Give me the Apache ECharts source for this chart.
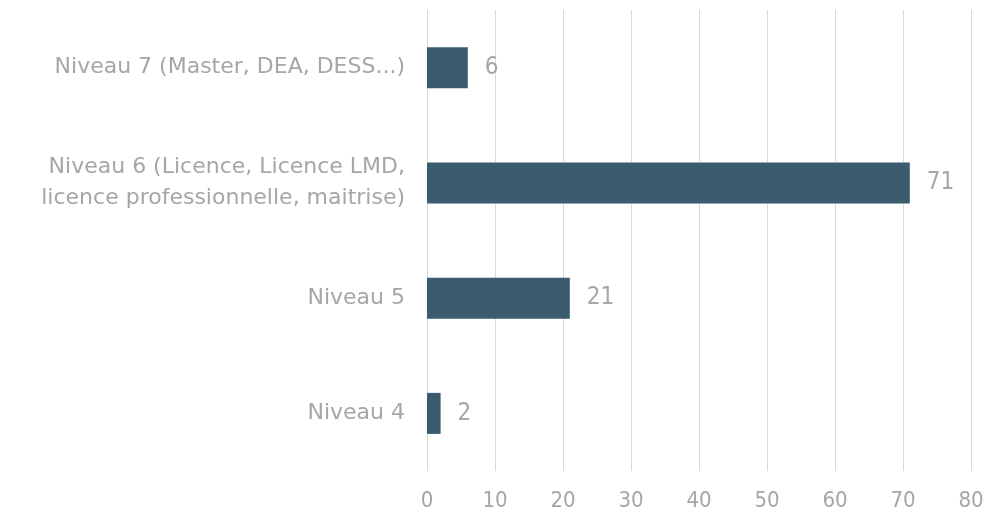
<!DOCTYPE html>
<html>
<head>
<meta charset="utf-8">
<script src="https://cdn.jsdelivr.net/npm/echarts@6/dist/echarts.min.js"></script>
<style>html,body{margin:0;padding:0;background:#fff;}#c{width:1000px;height:513px;}</style>
</head>
<body>
<div id="c"></div>
<script>
const categories = [
  'Niveau 7 (Master, DEA, DESS...)',
  'Niveau 6 (Licence, Licence LMD,\nlicence professionnelle, maitrise)',
  'Niveau 5',
  'Niveau 4'
];
const values = [6, 71, 21, 2];
const xTicks = [0, 10, 20, 30, 40, 50, 60, 70, 80];

const FONT = 'DejaVu Sans';
const NUMFONT = "'Liberation Sans Narrow', 'DejaVu Sans Condensed', 'DejaVu Sans'";
const chart = echarts.init(document.getElementById('c'));
chart.setOption({
  animation: false,
  grid: { left: 427, right: 29, top: 10, bottom: 42, containLabel: false },
  xAxis: {
    type: 'value', min: xTicks[0], max: xTicks[xTicks.length - 1], interval: 10,
    axisLine: { show: false }, axisTick: { show: false },
    splitLine: { lineStyle: { color: '#D9D9D9', width: 1 } },
    axisLabel: { color: '#A6A6A6', fontSize: 22, fontFamily: NUMFONT, margin: 19 }
  },
  yAxis: {
    type: 'category', data: categories, inverse: true,
    axisLine: { show: false }, axisTick: { show: false },
    axisLabel: { color: '#A6A6A6', fontSize: 22, fontFamily: FONT, margin: 22, lineHeight: 31, align: 'right' }
  },
  series: [{
    type: 'bar', data: values, barWidth: 41,
    itemStyle: { color: '#3B5B6E' },
    label: { show: true, position: 'right', distance: 17, color: '#A6A6A6', fontSize: 24, fontFamily: NUMFONT }
  }]
});
</script>
</body>
</html>
